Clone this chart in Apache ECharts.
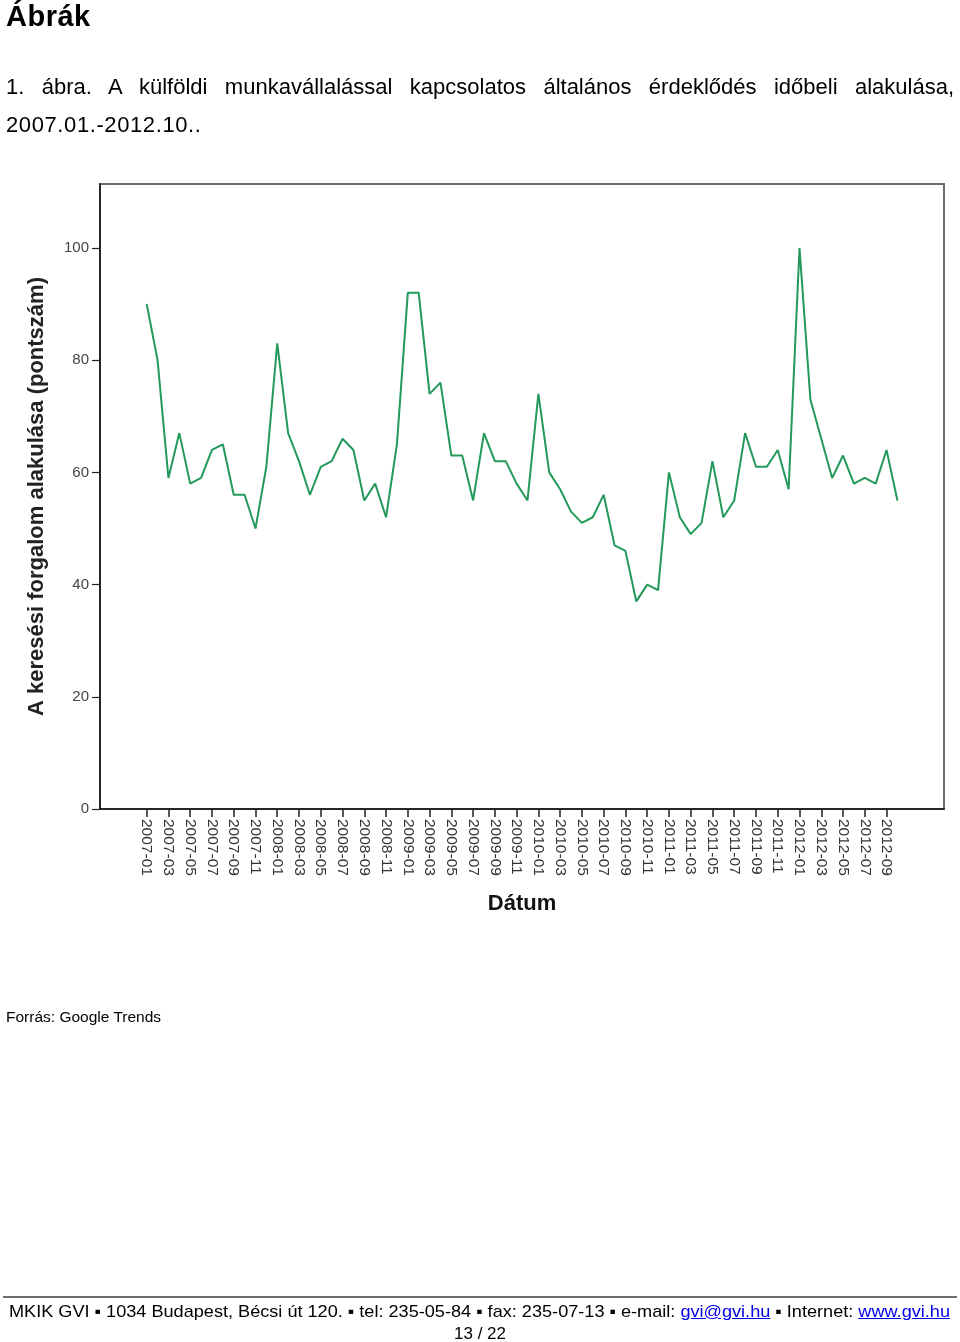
<!DOCTYPE html>
<html>
<head>
<meta charset="utf-8">
<script src="https://cdn.jsdelivr.net/npm/echarts@6/dist/echarts.min.js"></script>
<style>
  html, body { margin: 0; padding: 0; background: #fff; }
  body { width: 960px; height: 1342px; position: relative; overflow: hidden; font-family: "Liberation Sans", Arial, sans-serif; color: #000; }
  #chart { position: absolute; left: 0; top: 0; width: 960px; height: 1342px; }
  .t { position: absolute; white-space: nowrap; }
  #title { left: 6px; top: 0px; font-size: 29px; font-weight: bold; letter-spacing: 0.5px; }
  #cap1 { left: 6px; top: 74px; width: 948px; font-size: 22px; text-align: justify; text-align-last: justify; white-space: normal; }
  #cap2 { left: 6px; top: 112px; font-size: 22px; letter-spacing: 0.6px; }
  #src { left: 6px; top: 1008px; font-size: 15.5px; }
  #rule { position: absolute; left: 3px; top: 1296px; width: 954px; height: 0; border-top: 2px solid #6f6f6f; }
  #foot { left: 9px; top: 1302px; font-size: 17px; transform-origin: 0 0; }
  #foot a { color: #0000ee; text-decoration: underline; }
  #page { left: 0; top: 1324px; width: 960px; text-align: center; font-size: 17px; }
</style>
</head>
<body>
<div id="chart"></div>
<div class="t" id="title">Ábrák</div>
<div class="t" id="cap1">1. ábra. A külföldi munkavállalással kapcsolatos általános érdeklődés időbeli alakulása,</div>
<div class="t" id="cap2">2007.01.-2012.10..</div>
<div class="t" id="src">Forrás: Google Trends</div>
<div id="rule"></div>
<div class="t" id="foot">MKIK GVI ▪ 1034 Budapest, Bécsi út 120. ▪ tel: 235-05-84 ▪ fax: 235-07-13 ▪ e-mail: <a>gvi@gvi.hu</a> ▪ Internet: <a>www.gvi.hu</a></div>
<div class="t" id="page">13 / 22</div>
<script>
// Months (categories), 2007-01 .. 2012-10
var months = [
  '2007-01','2007-02','2007-03','2007-04','2007-05','2007-06','2007-07','2007-08','2007-09','2007-10','2007-11','2007-12',
  '2008-01','2008-02','2008-03','2008-04','2008-05','2008-06','2008-07','2008-08','2008-09','2008-10','2008-11','2008-12',
  '2009-01','2009-02','2009-03','2009-04','2009-05','2009-06','2009-07','2009-08','2009-09','2009-10','2009-11','2009-12',
  '2010-01','2010-02','2010-03','2010-04','2010-05','2010-06','2010-07','2010-08','2010-09','2010-10','2010-11','2010-12',
  '2011-01','2011-02','2011-03','2011-04','2011-05','2011-06','2011-07','2011-08','2011-09','2011-10','2011-11','2011-12',
  '2012-01','2012-02','2012-03','2012-04','2012-05','2012-06','2012-07','2012-08','2012-09','2012-10'
];
// Search interest (points)
var values = [
  90, 80, 59, 67, 58, 59, 64, 65, 56, 56, 50, 61,
  83, 67, 62, 56, 61, 62, 66, 64, 55, 58, 52, 65,
  92, 92, 74, 76, 63, 63, 55, 67, 62, 62, 58, 55,
  74, 60, 57, 53, 51, 52, 56, 47, 46, 37, 40, 39,
  60, 52, 49, 51, 62, 52, 55, 67, 61, 61, 64, 57,
  100, 73, 66, 59, 63, 58, 59, 58, 64, 55
];
// Labelled x ticks (every second month)
var xTickIdx = [0,2,4,6,8,10,12,14,16,18,20,22,24,26,28,30,32,34,36,38,40,42,44,46,48,50,52,54,56,58,60,62,64,66,68];
var yTicks = [0, 20, 40, 60, 80, 100];
var yAxisName = 'A keresési forgalom alakulása (pontszám)';
var xAxisName = 'Dátum';

var chart = echarts.init(document.getElementById('chart'), null, { renderer: 'canvas' });
chart.setOption({
  animation: false,
  grid: {
    left: 100, top: 184, right: 16, bottom: 533,
    show: true, borderColor: '#6a6a6a', borderWidth: 2, backgroundColor: '#fff'
  },
  xAxis: {
    type: 'value', min: -4.29, max: 73.28,
    name: xAxisName, nameLocation: 'middle', nameGap: 84,
    nameTextStyle: { fontSize: 22, fontWeight: 'bold', color: '#111', fontFamily: 'Liberation Sans' },
    splitLine: { show: false },
    axisLine: { show: true, onZero: false, lineStyle: { color: '#111', width: 1.5 } },
    axisTick: { show: true, length: 8, customValues: xTickIdx, lineStyle: { color: '#222', width: 1.5 } },
    axisLabel: {
      customValues: xTickIdx, rotate: -90, margin: 10,
      fontSize: 15.5, color: '#333', fontFamily: 'Liberation Sans',
      formatter: function (v) { return months[Math.round(v)] || ''; }
    }
  },
  yAxis: {
    type: 'value', min: 0, max: 111.4,
    name: yAxisName, nameLocation: 'middle', nameGap: 52, nameRotate: 90,
    nameTextStyle: { fontSize: 22, fontWeight: 'bold', color: '#222', fontFamily: 'Liberation Sans' },
    splitLine: { show: false },
    axisLine: { show: true, onZero: false, lineStyle: { color: '#111', width: 1.5 } },
    axisTick: { show: true, length: 8, customValues: yTicks, lineStyle: { color: '#222', width: 1.2 } },
    axisLabel: {
      customValues: yTicks, margin: 11, fontSize: 15, color: '#444', fontFamily: 'Liberation Sans'
    }
  },
  series: [{
    type: 'line',
    data: values.map(function (v, i) { return [i, v]; }),
    symbol: 'none',
    lineStyle: { color: '#23995a', width: 2 },
    z: 3
  }]
});

// fit footer text to its printed width
(function () {
  var f = document.getElementById('foot');
  var w = f.getBoundingClientRect().width;
  f.style.transform = 'scaleX(' + (941 / w) + ')';
})();
</script>
</body>
</html>
